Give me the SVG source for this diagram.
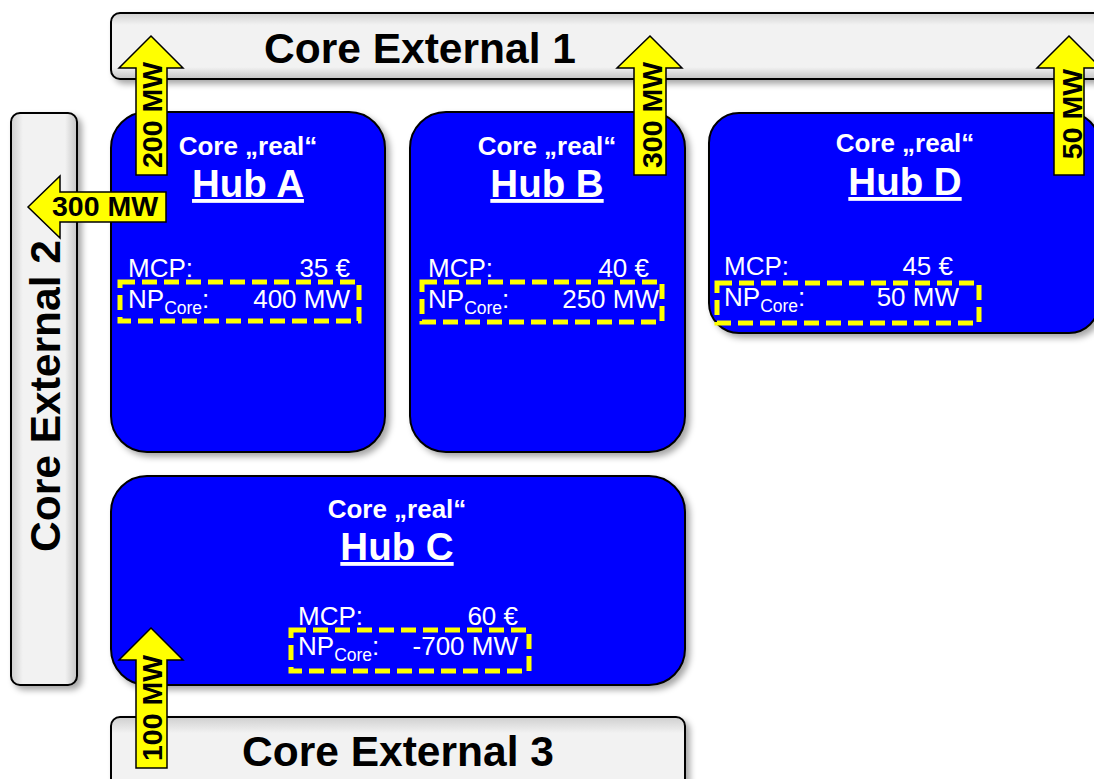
<svg xmlns="http://www.w3.org/2000/svg" width="1094" height="779" viewBox="0 0 1094 779">
<defs>
<filter id="sh" x="-10%" y="-10%" width="130%" height="130%">
<feDropShadow dx="4" dy="4" stdDeviation="3" flood-color="#000" flood-opacity="0.35"/>
</filter>
<linearGradient id="gv" x1="0" y1="0" x2="0" y2="1">
<stop offset="0" stop-color="#cfcfcf"/>
<stop offset="0.18" stop-color="#f2f2f2"/>
<stop offset="0.82" stop-color="#f2f2f2"/>
<stop offset="1" stop-color="#c4c4c4"/>
</linearGradient>
<linearGradient id="gh" x1="0" y1="0" x2="1" y2="0">
<stop offset="0" stop-color="#cfcfcf"/>
<stop offset="0.18" stop-color="#f2f2f2"/>
<stop offset="0.82" stop-color="#f2f2f2"/>
<stop offset="1" stop-color="#c4c4c4"/>
</linearGradient>
<style>
.ext{stroke:#000;stroke-width:2;filter:url(#sh)}
.extt{font-family:"Liberation Sans",Arial,sans-serif;font-weight:bold;font-size:42.5px;fill:#000;text-anchor:middle}
.hub{fill:#0000ff;stroke:#000;stroke-width:2;filter:url(#sh)}
.ht{font-family:"Liberation Sans",Arial,sans-serif;font-weight:bold;fill:#fff;text-anchor:middle}
.t1{font-size:26px}
.t2{font-size:38.5px;text-decoration:underline}
.v{font-family:"Liberation Sans",Arial,sans-serif;font-size:26px;fill:#fff}
.r{text-anchor:end}
.sub{font-size:17.5px}
.box{fill:none;stroke:#ffff00;stroke-width:5;stroke-dasharray:15 7}
.arr{fill:#ffff00;stroke:#000;stroke-width:1.5;stroke-linejoin:miter}
.at{font-family:"Liberation Sans",Arial,sans-serif;font-weight:bold;font-size:28.5px;fill:#000;text-anchor:middle}
</style>
</defs>
<rect width="1094" height="779" fill="#fff"/>

<g id="core-external-1">
<rect class="ext" x="111" y="13" width="1010" height="66" rx="9" fill="url(#gv)"/>
<text class="extt" x="420" y="63">Core External 1</text>
</g>
<g id="core-external-2">
<rect class="ext" x="11" y="113" width="66" height="572" rx="9" fill="url(#gh)"/>
<text class="extt" transform="translate(60,396) rotate(-90)" x="0" y="0">Core External 2</text>
</g>
<g id="core-external-3">
<rect class="ext" x="111" y="717" width="574" height="90" rx="9" fill="url(#gv)"/>
<text class="extt" x="398" y="766">Core External 3</text>
</g>

<g id="hub-a">
<rect class="hub" x="111" y="112" width="274" height="340" rx="36"/>
<text class="ht t1" x="248" y="155">Core „real“</text>
<text class="ht t2" x="248" y="197">Hub A</text>
<text class="v" x="128" y="277">MCP:</text>
<text class="v r" x="350" y="277">35 €</text>
<text class="v" x="128" y="308">NP<tspan class="sub" dy="6">Core</tspan><tspan dy="-6">:</tspan></text>
<text class="v r" x="350" y="308">400 MW</text>
<rect class="box" x="120" y="282" width="239" height="39"/>
</g>

<g id="hub-b">
<rect class="hub" x="410" y="112" width="275" height="340" rx="36"/>
<text class="ht t1" x="547" y="155">Core „real“</text>
<text class="ht t2" x="547" y="197">Hub B</text>
<text class="v" x="428" y="277">MCP:</text>
<text class="v r" x="649" y="277">40 €</text>
<text class="v" x="428" y="308">NP<tspan class="sub" dy="6">Core</tspan><tspan dy="-6">:</tspan></text>
<text class="v r" x="659" y="308">250 MW</text>
<rect class="box" x="422" y="282" width="240" height="40"/>
</g>

<g id="hub-d">
<rect class="hub" x="709" y="113" width="390" height="220" rx="30"/>
<text class="ht t1" x="905" y="152">Core „real“</text>
<text class="ht t2" x="905" y="195">Hub D</text>
<text class="v" x="724" y="275">MCP:</text>
<text class="v r" x="953" y="275">45 €</text>
<text class="v" x="724" y="306">NP<tspan class="sub" dy="6">Core</tspan><tspan dy="-6">:</tspan></text>
<text class="v r" x="959" y="306">50 MW</text>
<rect class="box" x="717" y="283" width="262" height="40"/>
</g>

<g id="hub-c">
<rect class="hub" x="111" y="476" width="574" height="209" rx="36"/>
<text class="ht t1" x="397" y="518">Core „real“</text>
<text class="ht t2" x="397" y="560">Hub C</text>
<text class="v" x="298" y="625">MCP:</text>
<text class="v r" x="518" y="625">60 €</text>
<text class="v" x="298" y="655">NP<tspan class="sub" dy="6">Core</tspan><tspan dy="-6">:</tspan></text>
<text class="v r" x="518" y="655">-700 MW</text>
<rect class="box" x="291" y="630" width="238" height="41"/>
</g>

<g id="connectors">
<g id="arrow-200">
<polygon class="arr" points="151,36 183,68 167,68 167,175 136,175 136,68 119,68"/>
<text class="at" transform="translate(162,115) rotate(-90)">200 MW</text>
</g>
<g id="arrow-300-b">
<polygon class="arr" points="650,36 682,68 666,68 666,175 634,175 634,68 617,68"/>
<text class="at" transform="translate(662,115) rotate(-90)">300 MW</text>
</g>
<g id="arrow-50">
<polygon class="arr" points="1069,36 1101,68 1084,68 1084,175 1054,175 1054,68 1037,68"/>
<text class="at" transform="translate(1082,114) rotate(-90)">50 MW</text>
</g>
<g id="arrow-300-left">
<polygon class="arr" points="28,207 60,176 60,192 166,192 166,222 60,222 60,238"/>
<text class="at" x="105" y="216">300 MW</text>
</g>
<g id="arrow-100">
<polygon class="arr" points="151,628 183,660 167,660 167,768 136,768 136,660 119,660"/>
<text class="at" transform="translate(162,708) rotate(-90)">100 MW</text>
</g>
</g>
</svg>
